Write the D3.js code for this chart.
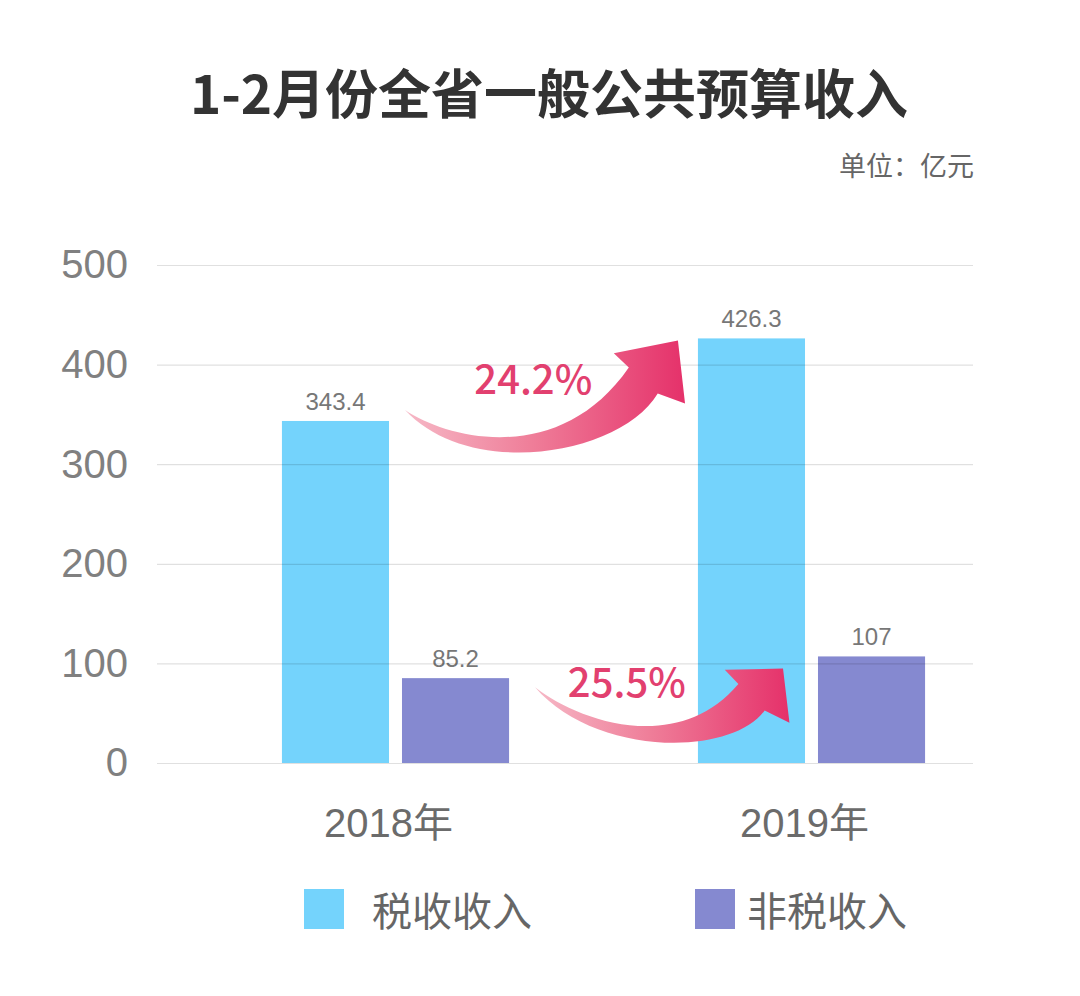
<!DOCTYPE html>
<html>
<head>
<meta charset="utf-8">
<script src="https://cdn.jsdelivr.net/npm/d3@7/dist/d3.min.js"></script>
<style>
  html, body { margin: 0; padding: 0; background: #fff; }
  svg { display: block; }
</style>
</head>
<body>
<svg id="chart" width="1080" height="996"></svg>
<script>
// ---- data ----
const years = ["2018年", "2019年"];
const seriesNames = ["税收收入", "非税收入"];
const taxRevenue = [343.4, 426.3];
const nonTaxRevenue = [85.2, 107];
const growthLabels = ["24.2%", "25.5%"];
const yTicks = [0, 100, 200, 300, 400, 500];
const titleText = "1-2月份全省一般公共预算收入";
const unitText = "单位：亿元";

const colors = { "税收收入": "#74d3fc", "非税收入": "#8589d0" };
const numFont = "'Liberation Sans', Arial, 'Noto Sans CJK SC', sans-serif";
const cjkFont = "'Noto Sans CJK SC', 'Noto Sans', sans-serif";

const svg = d3.select("#chart");
svg.append("rect").attr("width", 1080).attr("height", 996).attr("fill", "#fff");

// ---- scales ----
const plotLeft = 157, plotRight = 973;
const y = d3.scaleLinear().domain([0, 500]).range([763, 265]);
const x0 = d3.scaleBand().domain(years).range([187.5, 1019.5]).paddingInner(0.454).paddingOuter(0.227);
const x1 = d3.scaleBand().domain(seriesNames).range([0, x0.bandwidth()]).paddingInner(0.108);
const bw = x1.bandwidth();

const rows = years.map((yr, i) => ({
  year: yr,
  values: [
    { key: seriesNames[0], value: taxRevenue[i] },
    { key: seriesNames[1], value: nonTaxRevenue[i] }
  ]
}));

// ---- title ----
svg.append("text")
  .attr("x", 549).attr("y", 114)
  .attr("text-anchor", "middle")
  .attr("font-family", cjkFont)
  .attr("font-weight", 700)
  .attr("font-size", 53)
  .attr("fill", "#333")
  .text(titleText);

svg.append("text")
  .attr("x", 974).attr("y", 176)
  .attr("text-anchor", "end")
  .attr("font-family", cjkFont)
  .attr("font-size", 27)
  .attr("fill", "#666")
  .text(unitText);

// ---- bars ----
const groups = svg.append("g").selectAll("g")
  .data(rows).join("g")
  .attr("transform", d => `translate(${x0(d.year)},0)`);

groups.selectAll("rect")
  .data(d => d.values).join("rect")
  .attr("x", d => x1(d.key))
  .attr("y", d => y(d.value))
  .attr("width", bw)
  .attr("height", d => y(0) - y(d.value))
  .attr("fill", d => colors[d.key]);

groups.selectAll("text.val")
  .data(d => d.values).join("text")
  .attr("class", "val")
  .attr("x", d => x1(d.key) + bw / 2)
  .attr("y", d => y(d.value) - 11)
  .attr("text-anchor", "middle")
  .attr("font-family", numFont)
  .attr("font-size", 24)
  .attr("fill", "#777")
  .text(d => d.value);

// ---- y axis with gridlines (drawn over bars) ----
const yAxis = d3.axisLeft(y).tickValues(yTicks).tickSize(-(plotRight - plotLeft)).tickPadding(29);
const yg = svg.append("g").attr("transform", `translate(${plotLeft},0)`).call(yAxis);
yg.select(".domain").remove();
yg.selectAll(".tick line").attr("stroke", "rgba(0,0,0,0.12)").attr("stroke-width", 1.2);
yg.selectAll(".tick text")
  .attr("font-family", numFont)
  .attr("font-size", 40)
  .attr("fill", "#808080");

// ---- x axis ----
const xAxis = d3.axisBottom(x0).tickSize(0).tickPadding(46);
const xg = svg.append("g").attr("transform", `translate(0,${y(0)})`).call(xAxis);
xg.select(".domain").remove();
xg.selectAll(".tick text")
  .attr("dx", -7)
  .attr("font-family", numFont)
  .attr("font-size", 40)
  .attr("fill", "#6b6b6b");

// ---- growth arrows ----
const defs = svg.append("defs");
const grad = defs.append("linearGradient").attr("id", "arrowGrad")
  .attr("x1", "0%").attr("y1", "0%").attr("x2", "100%").attr("y2", "0%");
grad.append("stop").attr("offset", "0%").attr("stop-color", "#f6b8c6");
grad.append("stop").attr("offset", "45%").attr("stop-color", "#ef7e99");
grad.append("stop").attr("offset", "100%").attr("stop-color", "#e5316a");

// shape in a local frame: point(u,w) = T + u*(P-T) + w*dx*(0,1)
const shape = {
  upper: [[0.165, 0.153], [0.57, 0.35], [0.82, 0.053]],
  head: [[0.765, -0.013], [1, 0], [1.026, 0.238], [0.926, 0.176]],
  lower: [[0.79, 0.369], [0.239, 0.318], [0, 0]]
};
function arrowPath(T, P, sag) {
  const dx = P[0] - T[0], dy = P[1] - T[1];
  const pt = ([u, w]) => [T[0] + u * dx, T[1] + u * dy + w * sag * dx];
  const p = d3.path();
  p.moveTo(T[0], T[1]);
  const u = shape.upper.map(pt);
  p.bezierCurveTo(u[0][0], u[0][1], u[1][0], u[1][1], u[2][0], u[2][1]);
  shape.head.map(pt).forEach(q => p.lineTo(q[0], q[1]));
  const l = shape.lower.map(pt);
  p.bezierCurveTo(l[0][0], l[0][1], l[1][0], l[1][1], l[2][0], l[2][1]);
  p.closePath();
  return p.toString();
}

const taxX = i => x0(years[i]) + x1(seriesNames[0]);
const nonX = i => x0(years[i]) + x1(seriesNames[1]);
const arrows = [
  { tail: [taxX(0) + bw + 16, y(taxRevenue[0]) - 11], tip: [taxX(1) - 20, y(taxRevenue[1]) + 2],
    label: growthLabels[0], lu: 0.47, lv: -16, sag: 1 },
  { tail: [nonX(0) + bw + 26, y(nonTaxRevenue[0]) + 9], tip: [taxX(1) + bw - 22, y(nonTaxRevenue[1]) + 12],
    label: growthLabels[1], lu: 0.37, lv: 10, sag: 0.93 }
];

const ag = svg.append("g");
arrows.forEach(a => {
  ag.append("path").attr("d", arrowPath(a.tail, a.tip, a.sag)).attr("fill", "url(#arrowGrad)");
  ag.append("text")
    .attr("x", a.tail[0] + a.lu * (a.tip[0] - a.tail[0]))
    .attr("y", a.tail[1] + a.lv)
    .attr("text-anchor", "middle")
    .attr("font-family", cjkFont)
    .attr("font-weight", 500)
    .attr("font-size", 40)
    .attr("fill", "#e2406f")
    .text(a.label);
});

// ---- legend ----
const legendX = [304, 695];
const lg = svg.append("g").selectAll("g").data(seriesNames).join("g")
  .attr("transform", (d, i) => `translate(${legendX[i]},889)`);
lg.append("rect").attr("width", 40).attr("height", 40).attr("fill", d => colors[d]);
lg.append("text")
  .attr("x", (d, i) => i === 0 ? 68 : 52)
  .attr("y", 20)
  .attr("dominant-baseline", "central")
  .attr("font-family", cjkFont)
  .attr("font-size", 40)
  .attr("fill", "#666")
  .text(d => d);
</script>
</body>
</html>
